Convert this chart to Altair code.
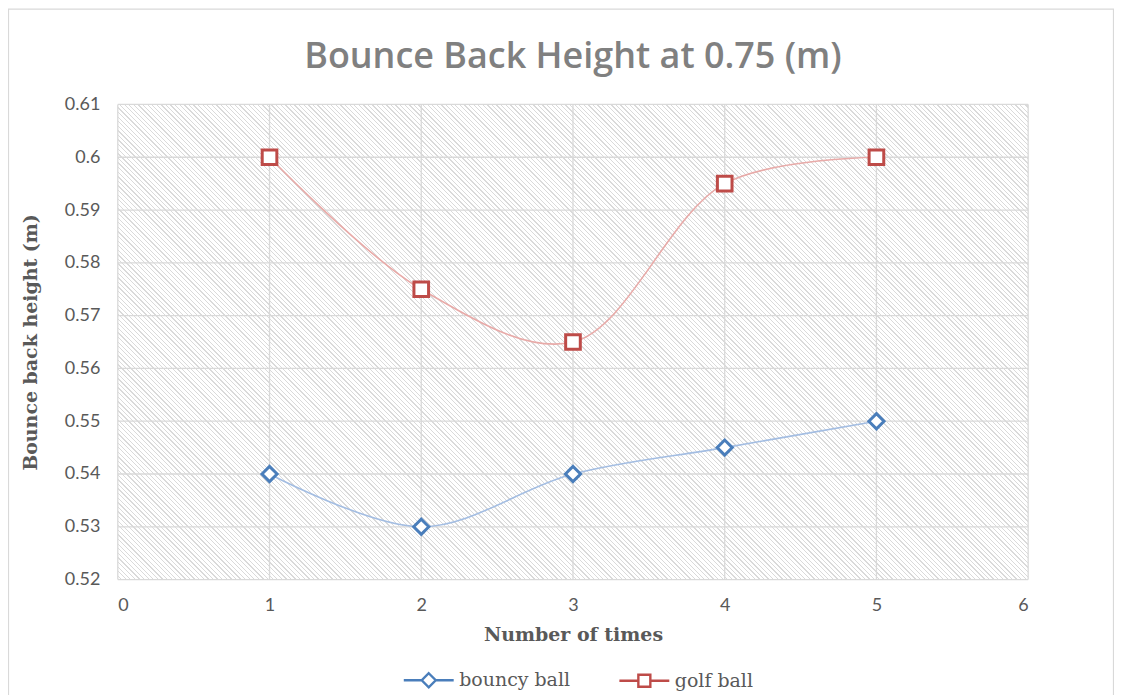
import altair as alt
import pandas as pd

# ---- data ----
x_times = [1, 2, 3, 4, 5]
bouncy_ball = [0.54, 0.53, 0.54, 0.545, 0.55]
golf_ball = [0.60, 0.575, 0.565, 0.595, 0.60]
series_names = ["bouncy ball", "golf ball"]
y_ticks = [0.52, 0.53, 0.54, 0.55, 0.56, 0.57, 0.58, 0.59, 0.60, 0.61]
x_ticks = [0, 1, 2, 3, 4, 5, 6]

df = pd.DataFrame({
    "times": x_times * 2,
    "height": bouncy_ball + golf_ball,
    "series": [series_names[0]] * 5 + [series_names[1]] * 5,
})

W, H = 912, 476
BLUE, BLUE_L = "#4a7ebb", "#a3bde2"
RED, RED_L = "#be4b48", "#e8aaa8"
GRAY = "#595959"
GRID = "#d9d9d9"

# ---- hatch background (diagonal stripes via a linear gradient) ----
r = H / W
k = (W + H) / (W * (1 + r * r))
period = 4.6 / (W + H)
line_w = 1.3 / (W + H)
stops = []
t = 0.0
light, dark = "#ffffff", "#dadada"
while t + period <= 1.0:
    stops.append(alt.GradientStop(offset=round(t, 6), color=light))
    stops.append(alt.GradientStop(offset=round(t + period - line_w, 6), color=light))
    stops.append(alt.GradientStop(offset=round(t + period - line_w, 6), color=dark))
    stops.append(alt.GradientStop(offset=round(t + period, 6), color=dark))
    t += period
hatch = alt.LinearGradient(gradient="linear", stops=stops,
                           x1=0, y1=1, x2=round(k, 5), y2=round(1 - k * r, 5))

x_enc = alt.X("times:Q", scale=alt.Scale(domain=[0, 6], nice=False),
              axis=alt.Axis(values=x_ticks, title="Number of times"))
y_enc = alt.Y("height:Q", scale=alt.Scale(domain=[0.52, 0.61], nice=False, zero=False),
              axis=alt.Axis(values=y_ticks, format=".2~f", title="Bounce back height (m)"))

base = alt.Chart(df)
one = pd.DataFrame({"a": [0]})

hatch_layer = alt.Chart(one).mark_rect(fill=hatch, stroke=None).encode(
    x=alt.value(0), x2=alt.value(W), y=alt.value(0), y2=alt.value(H))

xgrid = alt.Chart(pd.DataFrame({"times": x_ticks})).mark_rule(
    color=GRID, strokeWidth=1.3).encode(x=x_enc)
ygrid = alt.Chart(pd.DataFrame({"height": y_ticks})).mark_rule(
    color=GRID, strokeWidth=1.3).encode(y=y_enc)

layers = [hatch_layer, xgrid, ygrid]
for name, lc in [(series_names[0], BLUE_L), (series_names[1], RED_L)]:
    layers.append(
        base.transform_filter(alt.datum.series == name)
        .mark_line(interpolate="catmull-rom", strokeWidth=1.6, color=lc)
        .encode(x=x_enc, y=y_enc)
    )
for name, shp, c, sz in [(series_names[0], "diamond", BLUE, 230), (series_names[1], "square", RED, 215)]:
    layers.append(
        base.transform_filter(alt.datum.series == name)
        .mark_point(shape=shp, size=sz, filled=False, fill="white", fillOpacity=1,
                    stroke=c, strokeWidth=3, opacity=1)
        .encode(x=x_enc, y=y_enc)
    )

diamond_path = "M-5,0H-1.4M0,-1.4L1.4,0L0,1.4L-1.4,0ZM1.4,0H5"
square_path = "M-5,0H-1.2M-1.2,-1.2H1.2V1.2H-1.2ZM1.2,0H5"

legend_layer = base.mark_point(opacity=0, filled=False).encode(
    x=x_enc, y=y_enc,
    color=alt.Color("series:N", scale=alt.Scale(domain=series_names, range=[BLUE, RED]),
                    legend=alt.Legend(title=None, orient="none", direction="horizontal",
                                      legendX=302, legendY=567,
                                      symbolSize=100, symbolStrokeWidth=2.4,
                                      symbolFillColor="white", symbolOpacity=1,
                                      labelOffset=21, columnPadding=43,
                                      labelFont="DejaVu Serif", labelFontSize=19,
                                      labelColor=GRAY)),
    shape=alt.Shape("series:N", scale=alt.Scale(domain=series_names,
                                                range=[diamond_path, square_path])),
)
layers.append(legend_layer)

border = alt.Chart(one).mark_rect(
    fill=None, stroke="#d9d9d9", strokeWidth=1.2
).encode(x=alt.value(-109.5), x2=alt.value(W + 85.5), y=alt.value(-95.5), y2=alt.value(H + 120))

chart = alt.layer(border, *layers).properties(
    width=W, height=H,
    title=alt.TitleParams("Bounce Back Height at 0.75 (m)", font="Open Sans", fontSize=36,
                          fontWeight=600, color="#808080", anchor="middle", offset=-68),
    autosize=alt.AutoSizeParams(type="none"),
    padding={"left": 110, "top": 96, "right": 86, "bottom": 115},
).configure_view(
    stroke=None
).configure_axis(
    grid=False, domain=False, ticks=False,
    labelFont="Lato", labelFontSize=18, labelColor=GRAY,
    titleFont="DejaVu Serif", titleFontSize=19, titleFontWeight="bold", titleColor=GRAY,
).configure_axisY(titlePadding=24, labelPadding=18).configure_axisX(titlePadding=11, labelPadding=17)

chart.save("out.html", embed_options={"renderer": "svg", "actions": False})
